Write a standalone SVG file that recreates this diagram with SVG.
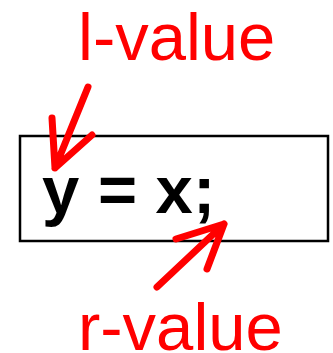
<svg xmlns="http://www.w3.org/2000/svg" width="333" height="353" viewBox="0 0 333 353">
<style>
.lbl{font-family:"Liberation Sans",Arial,sans-serif;font-size:67px;fill:#ff0000}
.code{font-family:"Liberation Sans",Arial,sans-serif;font-size:67px;font-weight:bold;fill:#000}
.arr{fill:none;stroke:#ff0000;stroke-width:7;stroke-linecap:round;stroke-linejoin:round}
</style>
<rect width="333" height="353" fill="#fff"/>
<g id="box">
<rect x="20" y="136" width="308" height="105" fill="#fff" stroke="#000" stroke-width="2.5"/>
<text class="code" x="42" y="213">y = x;</text>
</g>
<g id="lvalue"><text class="lbl" x="78" y="60">l-value</text></g>
<g id="rvalue"><text class="lbl" x="78" y="350">r-value</text></g>
<g id="connectors">
<path class="arr" d="M88,87 L55,168 M52,118 L55,168 L92,135"/>
<path class="arr" d="M157,287 L224,224 M176,239 L224,224 L207,269"/>
</g>
</svg>
